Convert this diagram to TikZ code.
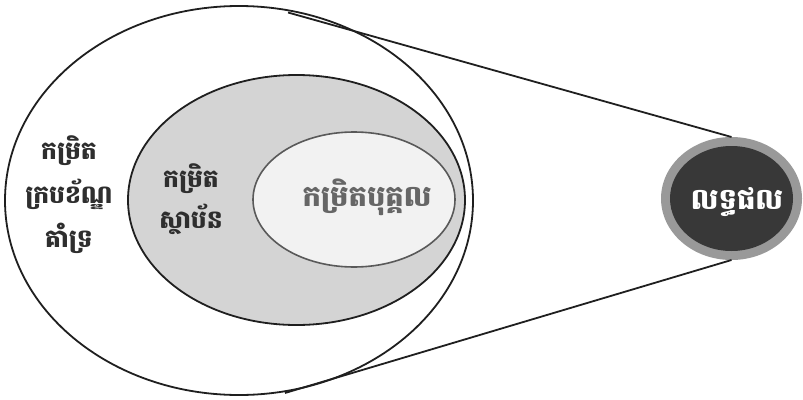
\documentclass[tikz,border=0pt]{standalone}
\usepackage{fontspec}
\usetikzlibrary{shapes.geometric}
\newfontfamily\khmer[Script=Khmer]{Battambang}
\begin{document}
\begin{tikzpicture}[x=1pt,y=-1pt,
  ell/.style={ellipse, inner sep=0pt, outer sep=0pt},
  ln/.style={draw=black!88, line width=1.8pt},
  lbl/.style={font=\khmer\bfseries\fontsize{25}{30}\selectfont, inner sep=0pt, anchor=base, text=black!82}]
\useasboundingbox (0,0) rectangle (803,399);
\node[ell, ln, fill=white, minimum width=468, minimum height=389] (outer) at (239,200.5) {};
\node[ell, ln, fill=black!17, minimum width=337, minimum height=250] (mid) at (296.5,200) {};
\node[ell, draw=black!65, line width=1.6pt, fill=black!5, minimum width=202, minimum height=135] (inner) at (354,199.5) {};
\node[ell, fill=black!40, minimum width=141, minimum height=123] (res) at (731.5,198.5) {};
\node[ell, fill=black!78, minimum width=123, minimum height=105] (resin) at (731.5,198.5) {};
\coordinate (t1) at (288,12.5);
\coordinate (b1) at (285,393);
\draw[ln] (t1) -- (res.north);
\draw[ln] (b1) -- (res.south);
\node[lbl] (o1) at (69,159) {កម្រិត};
\node[lbl] (o2) at (69,203) {ក្របខ័ណ្ឌ};
\node[lbl] (o3) at (69,247) {គាំទ្រ};
\node[lbl] (m1) at (191,187) {កម្រិត};
\node[lbl] (m2) at (191,228) {ស្ថាប័ន};
\node[lbl, text=black!60, font=\khmer\bfseries\fontsize{29}{34}\selectfont] (i1) at (367,206) {កម្រិតបុគ្គល};
\node[lbl, text=white, font=\khmer\bfseries\fontsize{29}{34}\selectfont] (r1) at (737,209) {លទ្ធផល};
\end{tikzpicture}
\end{document}
